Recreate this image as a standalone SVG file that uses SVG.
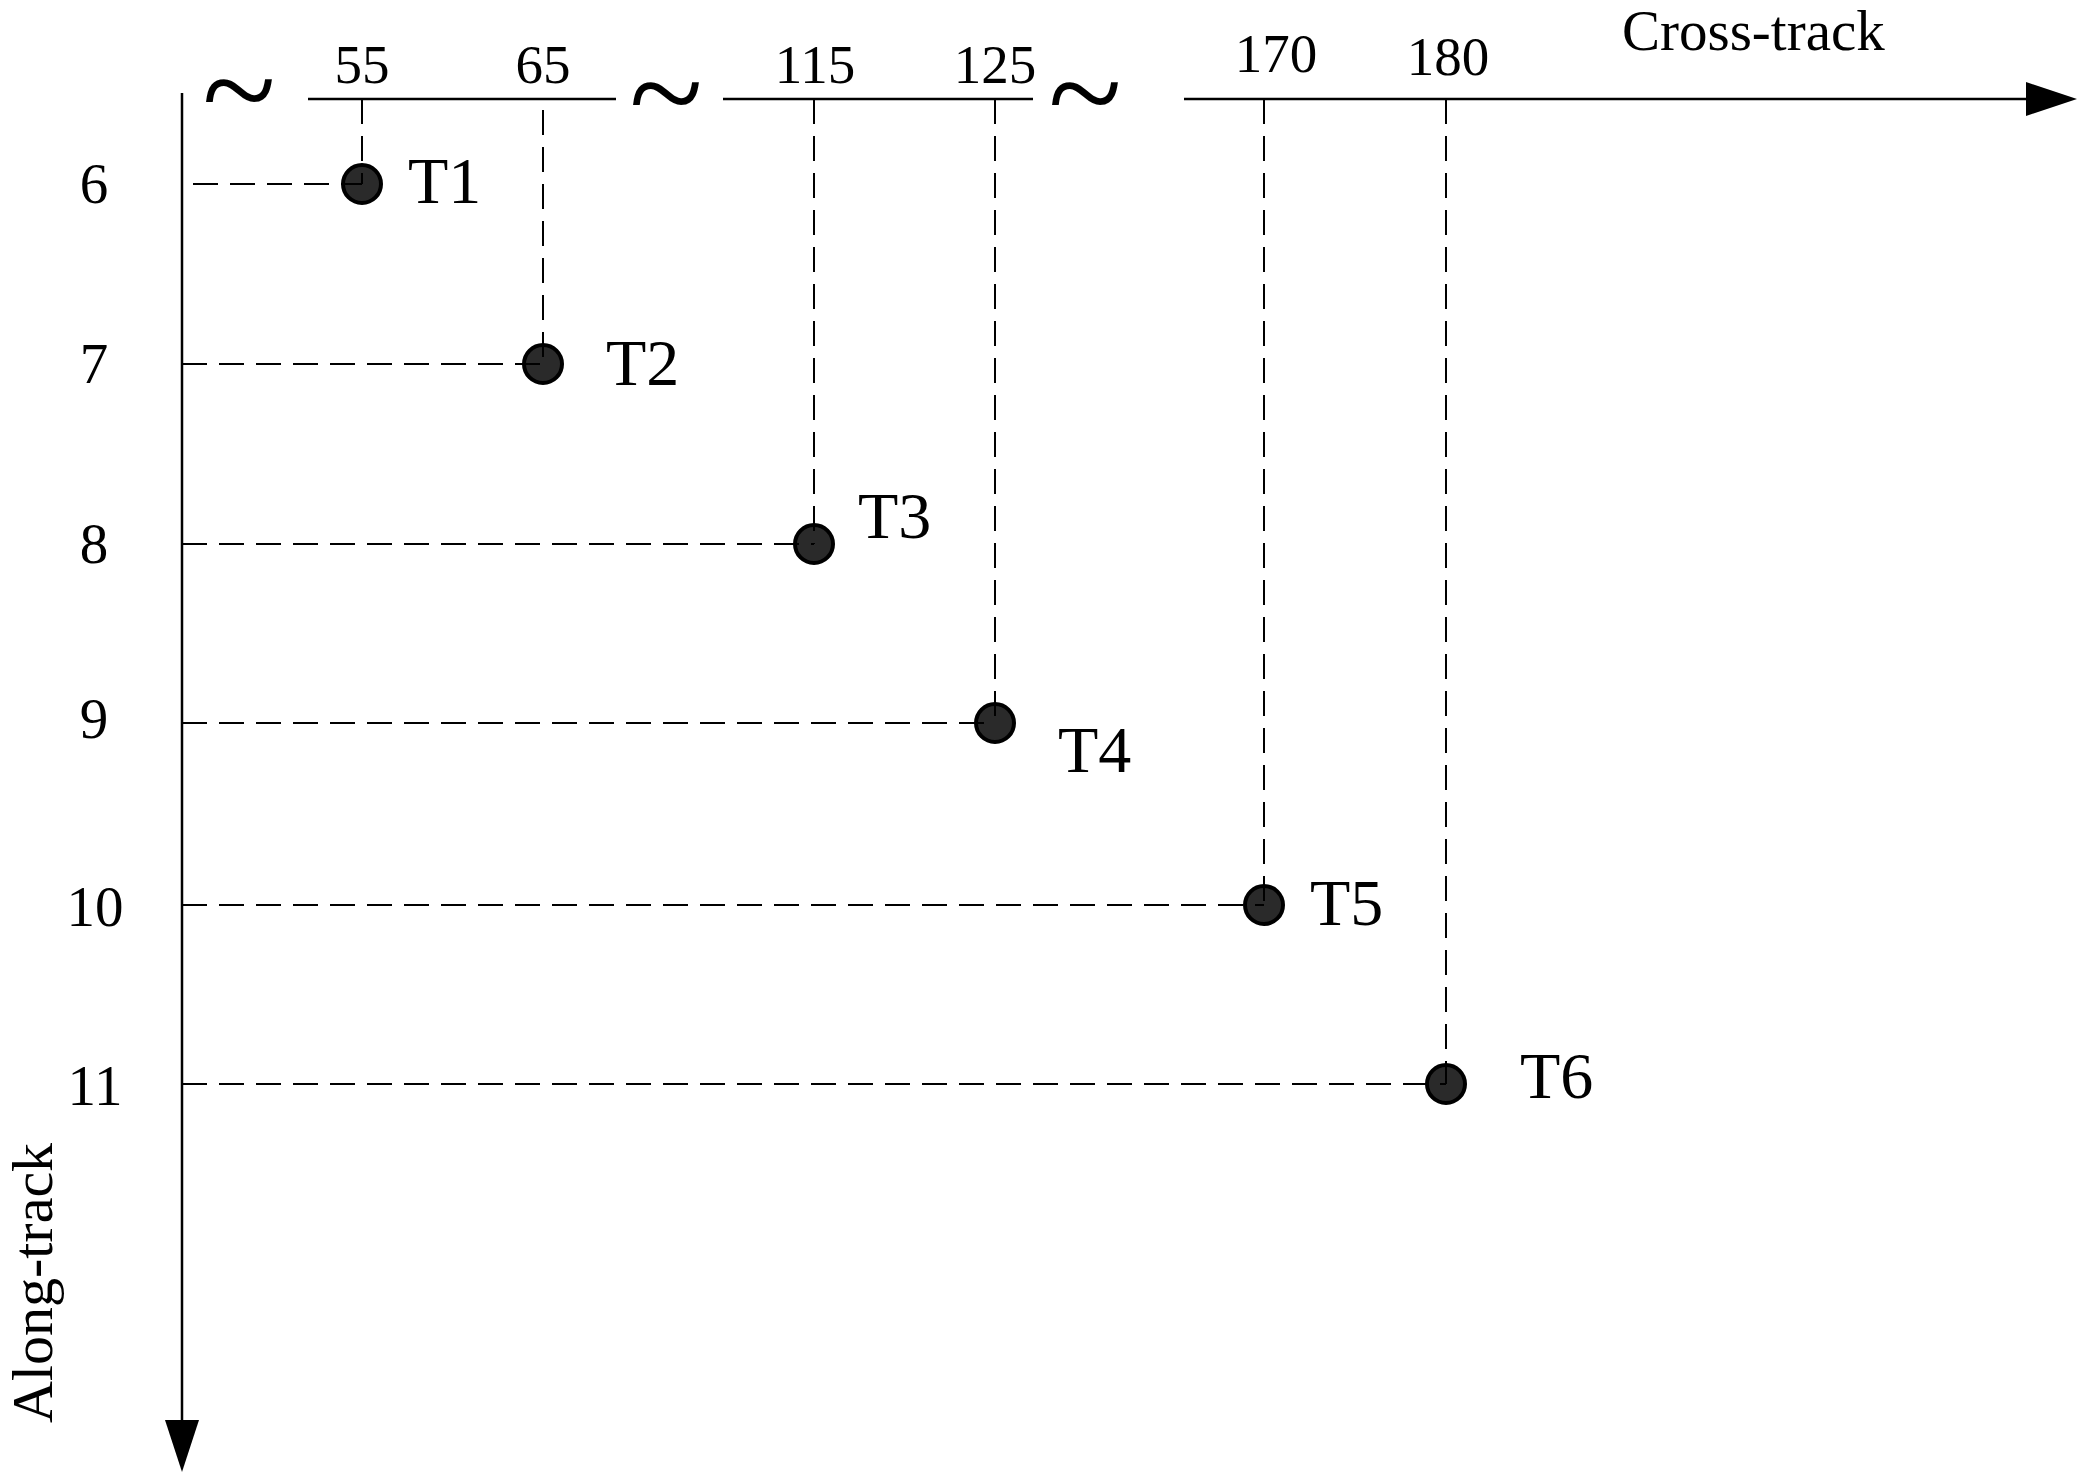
<svg xmlns="http://www.w3.org/2000/svg" width="2089" height="1484" viewBox="0 0 2089 1484">
<style>
text { font-family: "Liberation Serif", "Times New Roman", serif; fill: #000; }
.tick { font-size: 55px; text-anchor: middle; }
.ylab { font-size: 57px; text-anchor: middle; }
.tlab { font-size: 66px; }
.axis { stroke: #000; stroke-width: 2.5; fill: none; }
.dash { stroke: #000; stroke-width: 2; stroke-dasharray: 25 12; fill: none; }
.dot { fill: #2a2a2a; stroke: #000; stroke-width: 4; }
.tilde { font-size: 136px; text-anchor: middle; }
</style>
<rect width="2089" height="1484" fill="#fff"/>

<g id="axes">
  <line class="axis" x1="182" y1="93" x2="182" y2="1422"/>
  <polygon points="165,1420 199,1420 182,1472" fill="#000"/>
  <line class="axis" x1="308" y1="99" x2="616" y2="99"/>
  <line class="axis" x1="723" y1="99" x2="1033" y2="99"/>
  <line class="axis" x1="1184" y1="99" x2="2028" y2="99"/>
  <polygon points="2026,82 2026,116 2077,99" fill="#000"/>
  <text class="tilde" x="239" y="135">~</text>
  <text class="tilde" x="666" y="138">~</text>
  <text class="tilde" x="1085" y="138">~</text>
  <text class="tick" x="362" y="83">55</text>
  <text class="tick" x="543" y="83">65</text>
  <text class="tick" x="815" y="83">115</text>
  <text class="tick" x="995" y="83">125</text>
  <text class="tick" x="1276" y="72">170</text>
  <text class="tick" x="1448" y="75">180</text>
  <text x="1622" y="50" font-size="57">Cross-track</text>
  <text class="ylab" x="94" y="203">6</text>
  <text class="ylab" x="94" y="383">7</text>
  <text class="ylab" x="94" y="563">8</text>
  <text class="ylab" x="94" y="738">9</text>
  <text class="ylab" x="95" y="926">10</text>
  <text class="ylab" x="95" y="1105">11</text>
  <text font-size="58" text-anchor="middle" transform="translate(52,1283) rotate(-90)">Along-track</text>
</g>

<g id="nodes">
  <g id="T1"><circle class="dot" cx="362" cy="184" r="19"/><text class="tlab" x="408" y="203">T1</text></g>
  <g id="T2"><circle class="dot" cx="543" cy="364" r="19"/><text class="tlab" x="606" y="385">T2</text></g>
  <g id="T3"><circle class="dot" cx="814" cy="544" r="19"/><text class="tlab" x="858" y="538">T3</text></g>
  <g id="T4"><circle class="dot" cx="995" cy="723" r="19"/><text class="tlab" x="1058" y="772">T4</text></g>
  <g id="T5"><circle class="dot" cx="1264" cy="905" r="19"/><text class="tlab" x="1310" y="925">T5</text></g>
  <g id="T6"><circle class="dot" cx="1446" cy="1084" r="19"/><text class="tlab" x="1520" y="1098">T6</text></g>
</g>

<g id="connectors">
  <line class="dash" x1="193" y1="184" x2="362" y2="184"/>
  <line class="dash" x1="362" y1="99" x2="362" y2="184"/>
  <line class="dash" x1="182" y1="364" x2="543" y2="364"/>
  <line class="dash" x1="543" y1="110" x2="543" y2="364"/>
  <line class="dash" x1="182" y1="544" x2="814" y2="544"/>
  <line class="dash" x1="814" y1="99" x2="814" y2="544"/>
  <line class="dash" x1="182" y1="723" x2="995" y2="723"/>
  <line class="dash" x1="995" y1="99" x2="995" y2="723"/>
  <line class="dash" x1="182" y1="905" x2="1264" y2="905"/>
  <line class="dash" x1="1264" y1="99" x2="1264" y2="905"/>
  <line class="dash" x1="182" y1="1084" x2="1446" y2="1084"/>
  <line class="dash" x1="1446" y1="99" x2="1446" y2="1084"/>
</g>
</svg>
